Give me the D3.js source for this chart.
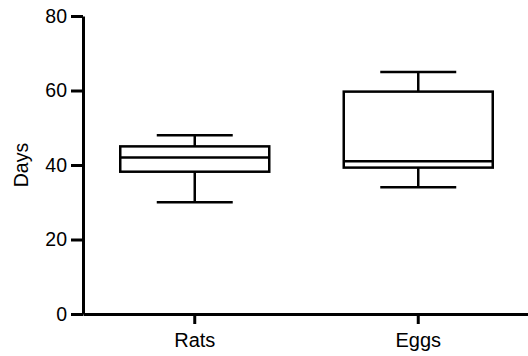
<!DOCTYPE html>
<html>
<head>
<meta charset="utf-8">
<script src="https://cdn.jsdelivr.net/npm/d3@7"></script>
<style>
  body { margin: 0; background: #fff; }
  svg { display: block; font-family: "Liberation Sans", Arial, sans-serif; }
</style>
</head>
<body>
<svg id="chart"></svg>
<script>
// box plot values
var groups = ["Rats", "Eggs"];
var mins = [30, 34];
var q1s = [38.2, 39.3];
var medians = [42, 41];
var q3s = [45, 59.7];
var maxs = [48, 65];
var yTicks = [0, 20, 40, 60, 80];

var W = 528, H = 356;
var margin = { top: 16, right: -2, bottom: 42, left: 83 };
var width = W - margin.left - margin.right,
  height = H - margin.top - margin.bottom;

var svg = d3.select("#chart").attr("width", W).attr("height", H);
var g = svg.append("g").attr("transform", "translate(" + margin.left + "," + margin.top + ")");

var x = d3.scaleBand().domain(groups).range([0, width]).padding(0);
var y = d3.scaleLinear().domain([0, 80]).range([height, 0]);

var boxHalf = x.bandwidth() / 3;
var capHalf = boxHalf * 0.51;

var data = groups.map(function (name, i) {
  return { name: name, min: mins[i], q1: q1s[i], med: medians[i], q3: q3s[i], max: maxs[i] };
});

var boxes = g.selectAll(".box").data(data).enter().append("g")
  .attr("class", "box")
  .attr("transform", function (d) { return "translate(" + (x(d.name) + x.bandwidth() / 2) + ",0)"; })
  .attr("stroke", "#000")
  .attr("stroke-width", 2.5)
  .attr("fill", "none");

// whiskers
boxes.append("line")
  .attr("x1", 0).attr("x2", 0)
  .attr("y1", function (d) { return y(d.max); })
  .attr("y2", function (d) { return y(d.q3); });
boxes.append("line")
  .attr("x1", 0).attr("x2", 0)
  .attr("y1", function (d) { return y(d.q1); })
  .attr("y2", function (d) { return y(d.min); });
boxes.append("line")
  .attr("x1", -capHalf).attr("x2", capHalf)
  .attr("y1", function (d) { return y(d.max); })
  .attr("y2", function (d) { return y(d.max); });
boxes.append("line")
  .attr("x1", -capHalf).attr("x2", capHalf)
  .attr("y1", function (d) { return y(d.min); })
  .attr("y2", function (d) { return y(d.min); });

// box
boxes.append("rect")
  .attr("x", -boxHalf)
  .attr("width", boxHalf * 2)
  .attr("y", function (d) { return y(d.q3); })
  .attr("height", function (d) { return y(d.q1) - y(d.q3); });

// median
boxes.append("line")
  .attr("x1", -boxHalf).attr("x2", boxHalf)
  .attr("y1", function (d) { return y(d.med); })
  .attr("y2", function (d) { return y(d.med); });

// axes
var yAxis = g.append("g")
  .call(d3.axisLeft(y).tickValues(yTicks).tickSize(12).tickSizeOuter(0).tickPadding(4));
var xAxis = g.append("g")
  .attr("transform", "translate(0," + height + ")")
  .call(d3.axisBottom(x).tickSize(10).tickSizeOuter(0).tickPadding(9));

[yAxis, xAxis].forEach(function (a) {
  a.select(".domain").attr("stroke", "#000").attr("stroke-width", 3);
  a.selectAll(".tick line").attr("stroke", "#000").attr("stroke-width", 3);
  a.selectAll(".tick text").attr("fill", "#000")
    .style("font-family", "'Liberation Sans', Arial, sans-serif");
});
yAxis.selectAll(".tick text").style("font-size", "19.5px");
xAxis.selectAll(".tick text").style("font-size", "20px");

g.append("text")
  .attr("transform", "rotate(-90)")
  .attr("x", -height / 2)
  .attr("y", -55)
  .style("text-anchor", "middle")
  .style("font-size", "19.5px")
  .text("Days");
</script>
</body>
</html>
